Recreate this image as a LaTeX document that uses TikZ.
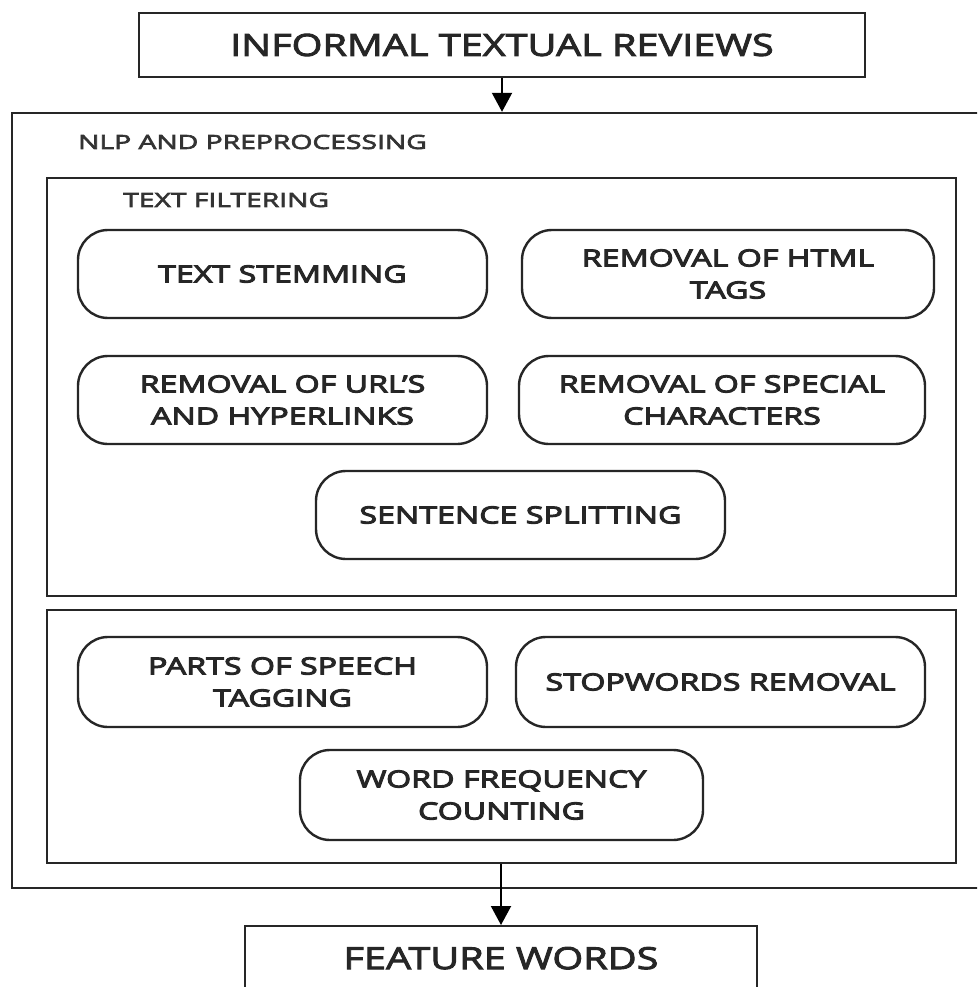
\documentclass[tikz,border=0pt]{standalone}
\usepackage{fontspec}
\setmainfont{Open Sans}
\newfontfamily\headfont[FakeStretch=1.3,FakeBold=3]{Open Sans}
\newfontfamily\pillfont[FakeStretch=1.37,FakeBold=4.5]{Open Sans}
\newfontfamily\lblfont[FakeStretch=1.45,FakeBold=3.5]{Open Sans}
\usetikzlibrary{arrows.meta}
\begin{document}
\begin{tikzpicture}[x=1pt,y=-1pt,
  frame/.style={draw=black!85, line width=2.4pt, inner sep=0pt},
  pill/.style={draw=black!85, line width=2.4pt, rounded corners=30pt, align=center,
    inner sep=0pt, text=black!85, font=\pillfont\fontsize{23.5}{32}\selectfont},
  head/.style={frame, text=black!85, font=\headfont\fontsize{30.5}{36}\selectfont},
  lbl/.style={anchor=west, inner sep=0pt, text=black!80, font=\lblfont\fontsize{19.5}{24}\selectfont},
  conn/.style={draw=black, line width=2pt, -{Triangle[width=20pt,length=19pt]}}]
\path[use as bounding box] (0,0) rectangle (977,987);
\clip (0,0) rectangle (977,987);
\fill[white] (0,0) rectangle (977,987);

% top and bottom boxes
\node[head, minimum width=726pt, minimum height=64pt] (top) at (502,45) {INFORMAL TEXTUAL REVIEWS};
\node[head, minimum width=512pt, minimum height=64pt, anchor=north] (feat) at (501,925) {FEATURE WORDS};

% frames
\node[frame, minimum width=980pt, minimum height=775pt] (outer) at (502,500.5) {};
\node[frame, minimum width=909pt, minimum height=418pt] (filter) at (501.5,387) {};
\node[frame, minimum width=909pt, minimum height=253pt] (second) at (501.5,736.5) {};

\node[lbl] (nlp) at (78,142) {NLP AND PREPROCESSING};
\node[lbl] (tf) at (123,200) {TEXT FILTERING};

% pills
\node[pill, minimum width=409pt, minimum height=88pt] (stem) at (282.5,274) {TEXT STEMMING};
\node[pill, minimum width=412pt, minimum height=88pt] (html) at (728,274) {REMOVAL OF HTML\\TAGS};
\node[pill, minimum width=409pt, minimum height=88pt] (url) at (282.5,400) {REMOVAL OF URL’S\\AND HYPERLINKS};
\node[pill, minimum width=406pt, minimum height=88pt] (spec) at (722,400) {REMOVAL OF SPECIAL\\CHARACTERS};
\node[pill, minimum width=409pt, minimum height=88pt] (sent) at (520.5,515) {SENTENCE SPLITTING};

\node[pill, minimum width=409pt, minimum height=90pt] (pos) at (282.5,682) {PARTS OF SPEECH\\TAGGING};
\node[pill, minimum width=409pt, minimum height=90pt] (stop) at (720.5,682) {STOPWORDS REMOVAL};
\node[pill, minimum width=403pt, minimum height=90pt] (freq) at (501.5,795) {WORD FREQUENCY\\COUNTING};

% connectors
\draw[conn] (top.south) -- (outer.north -| top.south);
\draw[conn] (second.south -| feat.north) -- (feat.north);
\end{tikzpicture}
\end{document}
